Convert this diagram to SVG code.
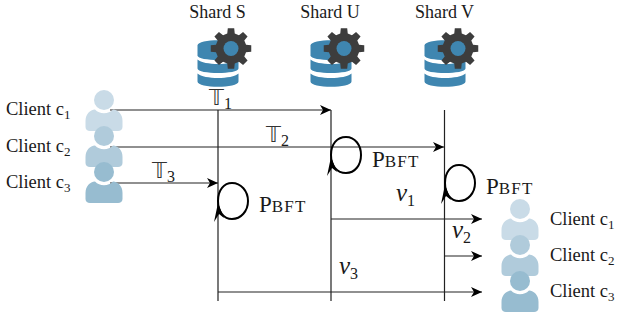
<svg xmlns="http://www.w3.org/2000/svg" width="618" height="320" viewBox="0 0 618 320">
<style>
text{font-family:"Liberation Serif","Times New Roman",serif;fill:#1a1a1a}
.l{font-size:18.500px}
.s{font-size:18px}
.sub{font-size:13px}
.p{font-size:23px}
.sc{font-size:17px;letter-spacing:1.2px}
.t{font-family:"DejaVu Sans",sans-serif;font-size:21px;fill:#333}
.ts{font-family:"Liberation Serif",serif;font-size:16px;fill:#1a1a1a}
.v{font-size:25px;font-style:italic}
.vs{font-size:16px;font-style:normal}
.w{stroke:#222;stroke-width:1.2;fill:none}
.loop{stroke:#000;stroke-width:2;fill:none}
.db{fill:#3f86b0}
</style>
<defs>
<marker id="ah" markerWidth="14" markerHeight="12" refX="11" refY="5" orient="auto" markerUnits="userSpaceOnUse"><path d="M0 0L11 5L0 10L3 5Z" fill="#000"/></marker>
<g id="db">
<path class="db" d="M-20.500 -19C-20.500 -26 20.500 -26 20.500 -19L20.500 -9C20.500 -3 -20.500 -3 -20.500 -9Z"/>
<path class="db" d="M-20.500 -5C-14 1 14 1 20.500 -5L20.500 4C20.500 10 -20.500 10 -20.500 4Z"/>
<path class="db" d="M-20.500 9C-14 15 14 15 20.500 9L20.500 17C20.500 24 -20.500 24 -20.500 17Z"/>
</g>
<g id="gear">
<path fill="#3d3d3d" d="M-3.750 -15.040L-3.200 -20.250L3.200 -20.250L3.750 -15.040L7.980 -13.290L12.060 -16.580L16.580 -12.060L13.290 -7.980L15.040 -3.750L20.250 -3.200L20.250 3.200L15.040 3.750L13.290 7.980L16.580 12.060L12.060 16.580L7.980 13.290L3.750 15.040L3.200 20.250L-3.200 20.250L-3.750 15.040L-7.980 13.290L-12.060 16.580L-16.580 12.060L-13.290 7.980L-15.040 3.750L-20.250 3.200L-20.250 -3.200L-15.040 -3.750L-13.290 -7.980L-16.580 -12.060L-12.060 -16.580L-7.980 -13.290Z"/>
<circle r="7.500" fill="#3f86b0"/>
</g>
<g id="person">
<circle cx="0" cy="0" r="10"/>
<path d="M-9 9.500A12.500 12.500 0 0 0 9 9.500C14 10 18.500 14 18.500 21L18.500 27C18.500 29.500 16.500 31 14 31L-14 31C-16.500 31 -18.500 29.500 -18.500 27L-18.500 21C-18.500 14 -14 10 -9 9.500Z"/>
</g>
</defs>
<g id="connectors">
<path class="w" d="M218 110V301M331 110V301M444.500 110V301"/>
<path class="w" marker-end="url(#ah)" d="M110 110H331"/>
<path class="w" marker-end="url(#ah)" d="M110 147H444"/>
<path class="w" marker-end="url(#ah)" d="M110 183H218"/>
<path class="w" marker-end="url(#ah)" d="M331 219H482"/>
<path class="w" marker-end="url(#ah)" d="M444.500 256H482"/>
<path class="w" marker-end="url(#ah)" d="M218 292H482"/>
</g>
<g id="shard-s"><text class="s" x="217.500" y="18" text-anchor="middle">Shard S</text><use href="#db" x="218" y="64.500"/><use href="#gear" x="231" y="48.500"/></g>
<g id="shard-u"><text class="s" x="330" y="18" text-anchor="middle">Shard U</text><use href="#db" x="331" y="64.500"/><use href="#gear" x="344" y="48.500"/></g>
<g id="shard-v"><text class="s" x="444.500" y="18" text-anchor="middle">Shard V</text><use href="#db" x="445" y="64.500"/><use href="#gear" x="458" y="48.500"/></g>
<g id="client-left-1"><use href="#person" x="104" y="100" fill="#c9dbe7"/><text class="l" x="6" y="115">Client c<tspan class="sub" dy="4">1</tspan></text></g>
<g id="client-left-2"><use href="#person" x="104" y="136" fill="#b0cbdb"/><text class="l" x="6" y="152">Client c<tspan class="sub" dy="4">2</tspan></text></g>
<g id="client-left-3"><use href="#person" x="104" y="172" fill="#97bcd0"/><text class="l" x="6" y="188">Client c<tspan class="sub" dy="4">3</tspan></text></g>
<g id="client-right-1"><use href="#person" x="520" y="209" fill="#c9dbe7"/><text class="l" x="550" y="225">Client c<tspan class="sub" dy="4">1</tspan></text></g>
<g id="client-right-2"><use href="#person" x="520" y="245" fill="#b0cbdb"/><text class="l" x="550" y="261">Client c<tspan class="sub" dy="4">2</tspan></text></g>
<g id="client-right-3"><use href="#person" x="520" y="281" fill="#97bcd0"/><text class="l" x="550" y="297">Client c<tspan class="sub" dy="4">3</tspan></text></g>
<g id="pbft-s"><path class="loop" d="M218 201C218 190 224 183 232 183C241 183 248 191 248 201C248 211 241 219 232 219C224 219 218 212 218 201Z"/><path d="M218 203L224 218L219 214L214 222Z"/><text class="p" x="259" y="212">P<tspan class="sc">BFT</tspan></text></g>
<g id="pbft-u"><path class="loop" d="M331 155C331 144 337 137 346 137C355 137 361 145 361 155C361 165 355 173 346 173C337 173 331 166 331 155Z"/><path d="M331 157L337 172L332 168L327 176Z"/><text class="p" x="372" y="167">P<tspan class="sc">BFT</tspan></text></g>
<g id="pbft-v"><path class="loop" d="M445 183C445 172 451 165 459 165C468 165 475 173 475 183C475 193 468 201 459 201C451 201 445 194 445 183Z"/><path d="M445 185L451 200L446 196L441 204Z"/><text class="p" x="486" y="194">P<tspan class="sc">BFT</tspan></text></g>
<g id="labels">
<text class="t" x="209" y="105">𝕋<tspan class="ts" dy="4">1</tspan></text>
<text class="t" x="266" y="142">𝕋<tspan class="ts" dy="4">2</tspan></text>
<text class="t" x="152" y="178">𝕋<tspan class="ts" dy="4">3</tspan></text>
<text class="v" x="396" y="201">v<tspan class="vs" dy="5">1</tspan></text>
<text class="v" x="452" y="238">v<tspan class="vs" dy="5">2</tspan></text>
<text class="v" x="339" y="274">v<tspan class="vs" dy="5">3</tspan></text>
</g>
</svg>
